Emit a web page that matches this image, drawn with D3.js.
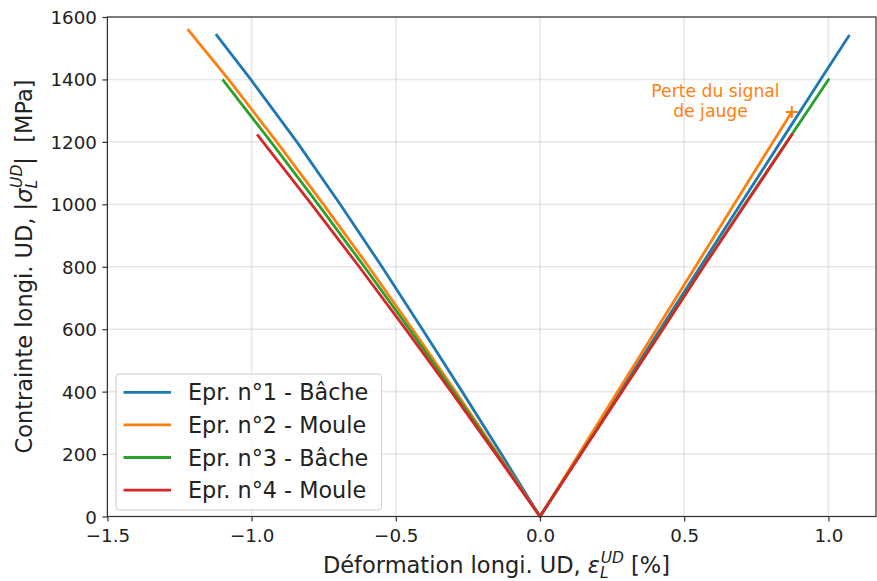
<!DOCTYPE html>
<html>
<head>
<meta charset="utf-8">
<script src="https://cdn.jsdelivr.net/npm/d3@7"></script>
<style>
  html, body { margin: 0; padding: 0; background: #fff; }
  svg { display: block; font-family: "DejaVu Sans", sans-serif; }
</style>
</head>
<body>
<svg id="chart" width="877" height="581"></svg>
<script>
// ---- Data (strain [%], stress [MPa]) ----
const seriesNames = ["Epr. n°1 - Bâche", "Epr. n°2 - Moule", "Epr. n°3 - Bâche", "Epr. n°4 - Moule"];
const seriesColors = ["#1f77b4", "#ff7f0e", "#2ca02c", "#d62728"];

const epr1Strain = [-1.124, -1.003, -0.843, -0.693, -0.548, -0.408, -0.270, -0.134, 0, 0.139, 0.278, 0.417, 0.556, 0.695, 0.834, 0.973, 1.073];
const epr1Stress = [1545, 1400, 1200, 1000, 800, 600, 400, 200, 0, 200, 400, 600, 800, 1000, 1200, 1400, 1542];

const epr2Strain = [-1.222, -1.080, -0.913, -0.751, -0.594, -0.442, -0.293, -0.146, 0, 0.135, 0.269, 0.404, 0.539, 0.673, 0.808, 0.873];
const epr2Stress = [1561, 1400, 1200, 1000, 800, 600, 400, 200, 0, 200, 400, 600, 800, 1000, 1200, 1296];

const epr3Strain = [-1.101, -0.933, -0.769, -0.609, -0.453, -0.300, -0.149, 0, 0.141, 0.283, 0.424, 0.566, 0.710, 0.856, 1.003];
const epr3Stress = [1400, 1200, 1000, 800, 600, 400, 200, 0, 200, 400, 600, 800, 1000, 1200, 1403];

const epr4Strain = [-0.981, -0.792, -0.627, -0.466, -0.308, -0.153, 0, 0.142, 0.284, 0.426, 0.567, 0.712, 0.876];
const epr4Stress = [1224, 1000, 800, 600, 400, 200, 0, 200, 400, 600, 800, 1000, 1227];

const gaugeLossPoint = [0.873, 1296];
const annotationLines = ["Perte du signal", "de jauge"];

const xTicks = [-1.5, -1.0, -0.5, 0.0, 0.5, 1.0];
const yTicks = [0, 200, 400, 600, 800, 1000, 1200, 1400, 1600];

const allStrain = [epr1Strain, epr2Strain, epr3Strain, epr4Strain];
const allStress = [epr1Stress, epr2Stress, epr3Stress, epr4Stress];

// ---- Layout ----
const svg = d3.select("#chart");
const pLeft = 107.4, pRight = 876, pTop = 17, pBottom = 516.5;

const x = d3.scaleLinear().domain([-1.5, 1.165]).range([pLeft, pRight]);
const y = d3.scaleLinear().domain([0, 1600]).range([pBottom, pTop]);

const fmtX = d => (d < 0 ? "\u2212" : "") + Math.abs(d).toFixed(1);
const fmtY = d3.format("d");

// grid
const grid = svg.append("g");
grid.selectAll(".gx").data(xTicks).enter().append("line")
  .attr("x1", d => x(d)).attr("x2", d => x(d))
  .attr("y1", pTop).attr("y2", pBottom)
  .attr("stroke", "#b0b0b0").attr("stroke-opacity", 0.3).attr("stroke-width", 1.6);
grid.selectAll(".gy").data(yTicks).enter().append("line")
  .attr("x1", pLeft).attr("x2", pRight)
  .attr("y1", d => y(d)).attr("y2", d => y(d))
  .attr("stroke", "#b0b0b0").attr("stroke-opacity", 0.3).attr("stroke-width", 1.6);

// lines
const line = d3.line().x(d => x(d[0])).y(d => y(d[1]));
const linesG = svg.append("g");
allStrain.forEach((s, i) => {
  const pts = s.map((v, k) => [v, allStress[i][k]]);
  linesG.append("path")
    .attr("d", line(pts))
    .attr("fill", "none")
    .attr("stroke", seriesColors[i])
    .attr("stroke-width", 2.8)
    .attr("stroke-linejoin", "round");
});

// marker "+"
const mx = x(gaugeLossPoint[0]), my = y(gaugeLossPoint[1]);
svg.append("path")
  .attr("d", `M${mx - 6},${my}H${mx + 6}M${mx},${my - 6}V${my + 6}`)
  .attr("stroke", seriesColors[1]).attr("stroke-width", 2).attr("fill", "none");

// annotation
const annX = [715.5, 710.5];
annotationLines.forEach((t, i) => {
  svg.append("text")
    .attr("x", annX[i]).attr("y", 96.5 + i * 20.5)
    .attr("text-anchor", "middle")
    .attr("fill", seriesColors[1])
    .attr("font-size", "17.2px")
    .text(t);
});

// axes
const xAxis = d3.axisBottom(x).tickValues(xTicks).tickFormat(fmtX).tickSizeOuter(0).tickSize(5);
const yAxis = d3.axisLeft(y).tickValues(yTicks).tickFormat(fmtY).tickSizeOuter(0).tickSize(5).tickPadding(5.4);

const gx = svg.append("g").attr("transform", `translate(0,${pBottom})`).call(xAxis);
const gy = svg.append("g").attr("transform", `translate(${pLeft},0)`).call(yAxis);
[gx, gy].forEach(g => {
  g.select(".domain").remove();
  g.selectAll(".tick line").attr("stroke", "#333").attr("stroke-width", 1.2);
  g.selectAll(".tick text").attr("fill", "#222").attr("font-size", "18.3px")
    .attr("font-family", "DejaVu Sans, sans-serif");
});
gx.selectAll(".tick text").attr("y", 25.5).attr("dy", 0);
gy.selectAll(".tick text").attr("dy", 6.5);

// spines
svg.append("rect")
  .attr("x", pLeft).attr("y", pTop).attr("width", pRight - pLeft).attr("height", pBottom - pTop)
  .attr("fill", "none").attr("stroke", "#333").attr("stroke-width", 1.2);

// axis labels
const xl = svg.append("text")
  .attr("x", 496.5).attr("y", 573)
  .attr("text-anchor", "middle").attr("font-size", "22.5px").attr("fill", "#222");
xl.append("tspan").text("Déformation longi. UD, ");
xl.append("tspan").attr("font-style", "italic").text("ε");
xl.append("tspan").attr("font-style", "italic").attr("font-size", "15.5px").attr("dy", 5).text("L");
xl.append("tspan").attr("font-style", "italic").attr("font-size", "15.5px").attr("dx", -8).attr("dy", -15).text("UD");
xl.append("tspan").attr("dy", 10).text(" [%]");

const yl = svg.append("text")
  .attr("transform", `translate(32,266.5) rotate(-90)`)
  .attr("text-anchor", "middle").attr("font-size", "22.5px").attr("fill", "#222");
yl.append("tspan").text("Contrainte longi. UD, |");
yl.append("tspan").attr("font-style", "italic").text("σ");
yl.append("tspan").attr("font-style", "italic").attr("font-size", "15.5px").attr("dy", 5).text("L");
yl.append("tspan").attr("font-style", "italic").attr("font-size", "15.5px").attr("dx", -8).attr("dy", -15).text("UD");
yl.append("tspan").attr("dy", 10).text("|\u00a0\u00a0[MPa]");

// legend
const lg = svg.append("g");
lg.append("rect")
  .attr("x", 116).attr("y", 374).attr("width", 265.5).attr("height", 136)
  .attr("rx", 3).attr("fill", "#fff").attr("fill-opacity", 0.8)
  .attr("stroke", "#cccccc").attr("stroke-width", 1);
seriesNames.forEach((n, i) => {
  const yy = 392.3 + i * 32.6;
  lg.append("line").attr("x1", 123.5).attr("x2", 171).attr("y1", yy).attr("y2", yy)
    .attr("stroke", seriesColors[i]).attr("stroke-width", 2.8);
  lg.append("text").attr("x", 188).attr("y", yy).attr("dy", "0.36em")
    .attr("font-size", "22.3px").attr("fill", "#222").text(n);
});
</script>
</body>
</html>
